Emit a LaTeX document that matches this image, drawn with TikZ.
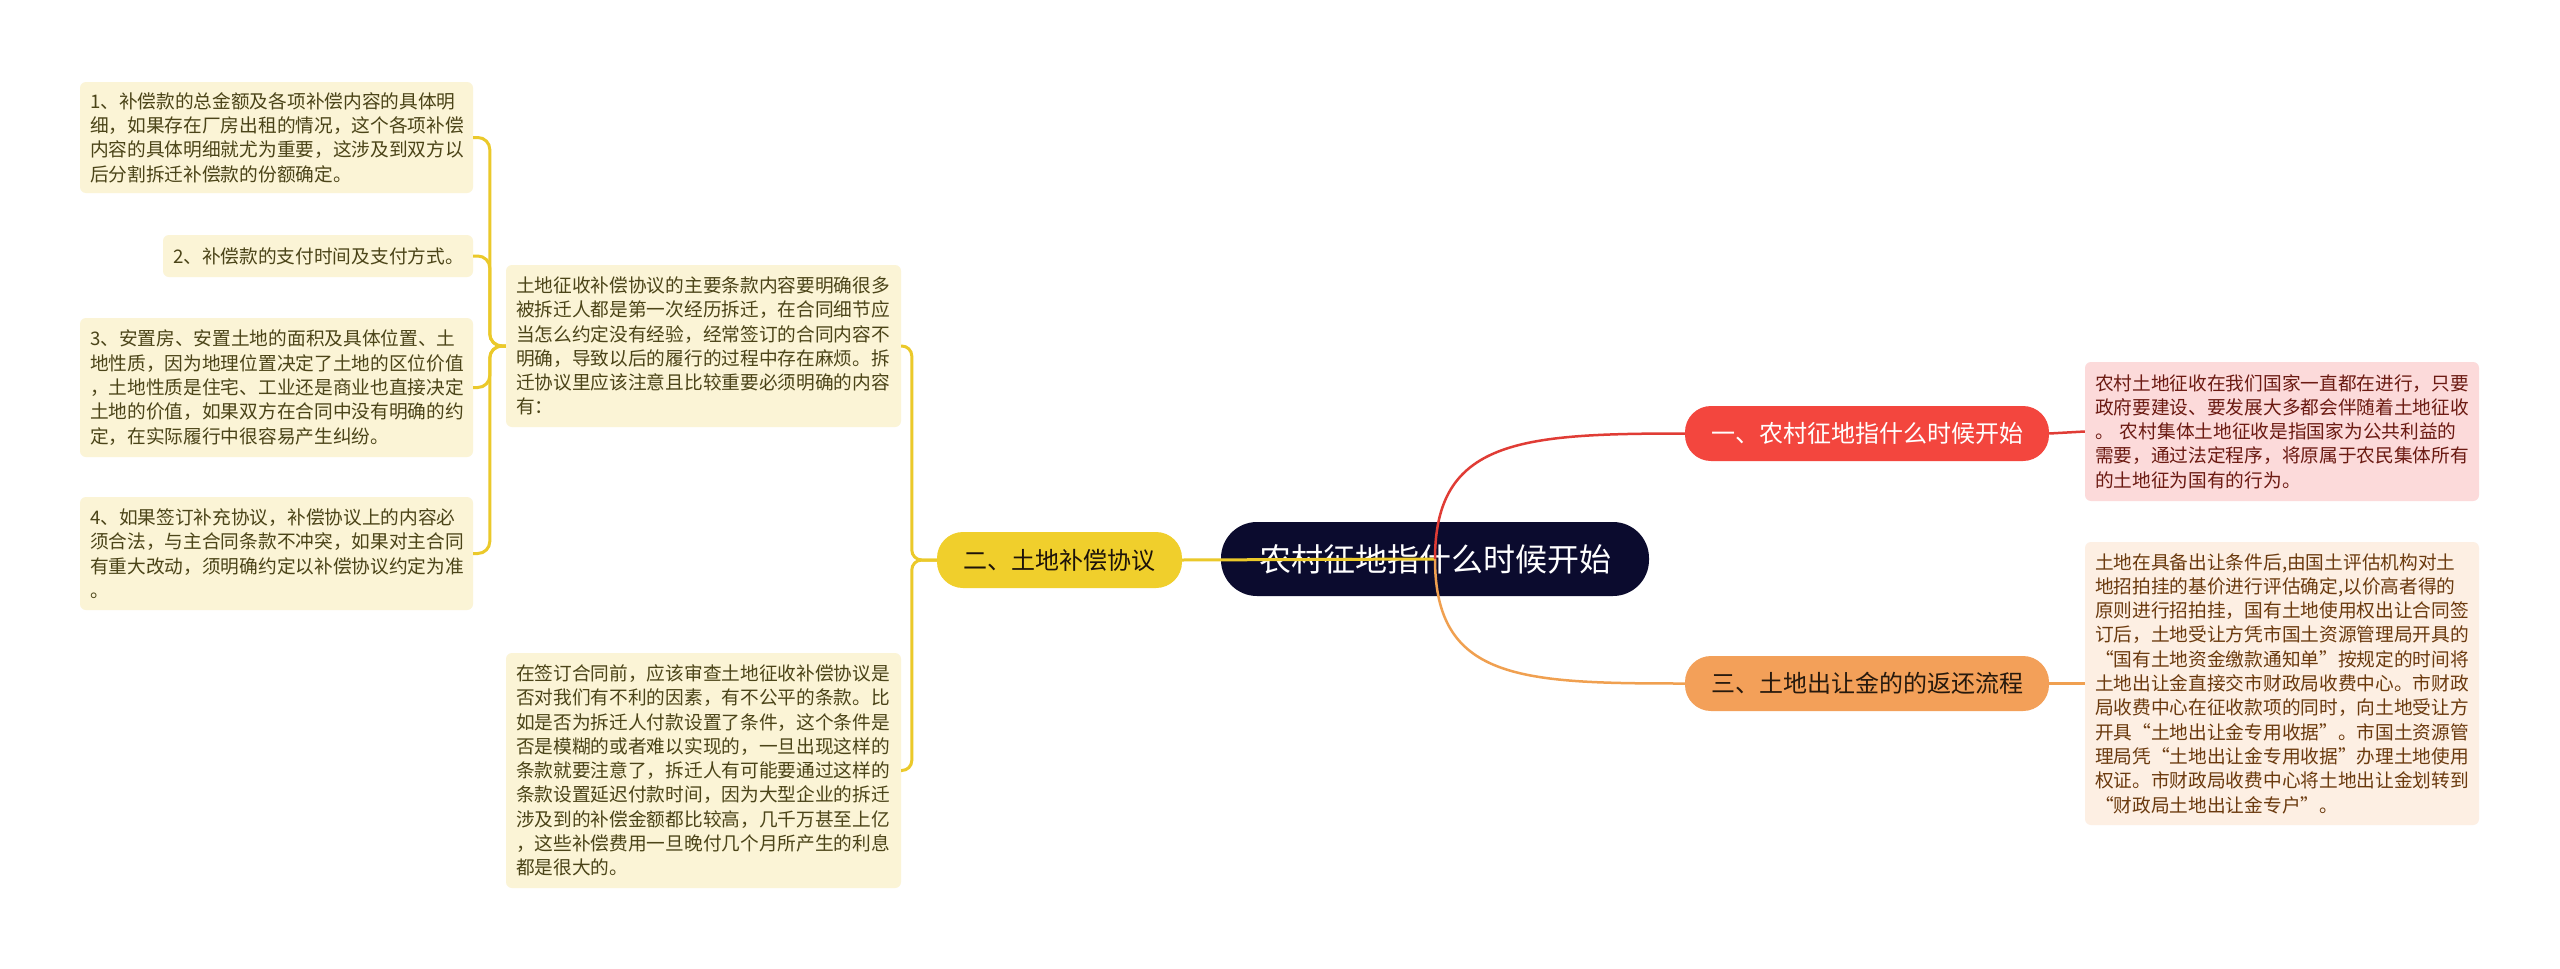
\documentclass[tikz,border=0pt]{standalone}
\usepackage{fontspec}
\setmainfont{Noto Sans CJK SC}
\definecolor{cnavy}{HTML}{0B0B2E}
\definecolor{cyel}{HTML}{F0CF2C}
\definecolor{cyelline}{HTML}{EBC92A}
\definecolor{cyelleaf}{HTML}{FBF4D6}
\definecolor{cyeltext}{HTML}{4B4418}
\definecolor{cred}{HTML}{F3463E}
\definecolor{credline}{HTML}{E03C35}
\definecolor{credleaf}{HTML}{FCDADA}
\definecolor{credtext}{HTML}{6B1A12}
\definecolor{corg}{HTML}{F3A059}
\definecolor{corgline}{HTML}{F0A050}
\definecolor{corgleaf}{HTML}{FDEFE3}
\definecolor{corgtext}{HTML}{6B3A0E}
\newcommand{\leaffont}{\fontsize{18.7}{24.3}\selectfont}
\newcommand{\mainfontsz}{\fontsize{24}{28}\selectfont}
\newcommand{\centerfontsz}{\fontsize{32}{36}\selectfont}
\begin{document}
\begin{tikzpicture}[x=1pt,y=-1pt,
  leafbase/.style={rounded corners=6pt, inner xsep=10pt, inner ysep=0pt, align=left, font=\leaffont},
  leafY/.style={leafbase, fill=cyelleaf, text=cyeltext},
  leafR/.style={leafbase, fill=credleaf, text=credtext},
  leafO/.style={leafbase, fill=corgleaf, text=corgtext},
  mainbase/.style={rounded corners=26pt, inner sep=0pt, font=\mainfontsz},
  mainY/.style={mainbase, fill=cyel, text=black!85!brown},
  mainR/.style={mainbase, fill=cred, text=white},
  mainO/.style={mainbase, fill=corg, text=black!80!brown},
  centernode/.style={rounded corners=36pt, inner sep=0pt, fill=cnavy, text=white, font=\centerfontsz},
  yline/.style={draw=cyelline, line width=3pt},
  rline/.style={draw=credline, line width=2.5pt},
  oline/.style={draw=corgline, line width=2.5pt}
]
\useasboundingbox[fill=white] (0,0) rectangle (2560,969);

% left leaves
\node[leafY, text width=373, minimum height=111] (l1) at (276.5,137.5) {1、补偿款的总金额及各项补偿内容的具体明\\细，如果存在厂房出租的情况，这个各项补偿\\内容的具体明细就尤为重要，这涉及到双方以\\后分割拆迁补偿款的份额确定。};
\node[leafY, text width=290, minimum height=42] (l2) at (318,256) {2、补偿款的支付时间及支付方式。};
\node[leafY, text width=373, minimum height=139] (l3) at (276.5,387.5) {3、安置房、安置土地的面积及具体位置、土\\地性质，因为地理位置决定了土地的区位价值\\，土地性质是住宅、工业还是商业也直接决定\\土地的价值，如果双方在合同中没有明确的约\\定，在实际履行中很容易产生纠纷。};
\node[leafY, text width=373, minimum height=113] (l4) at (276.5,553.5) {4、如果签订补充协议，补偿协议上的内容必\\须合法，与主合同条款不冲突，如果对主合同\\有重大改动，须明确约定以补偿协议约定为准\\。};

% middle-left leaves
\node[leafY, text width=375, minimum height=162] (la) at (703.5,346) {土地征收补偿协议的主要条款内容要明确很多\\被拆迁人都是第一次经历拆迁，在合同细节应\\当怎么约定没有经验，经常签订的合同内容不\\明确，导致以后的履行的过程中存在麻烦。拆\\迁协议里应该注意且比较重要必须明确的内容\\有：};
\node[leafY, text width=375, minimum height=235] (lb) at (703.5,770.5) {在签订合同前，应该审查土地征收补偿协议是\\否对我们有不利的因素，有不公平的条款。比\\如是否为拆迁人付款设置了条件，这个条件是\\否是模糊的或者难以实现的，一旦出现这样的\\条款就要注意了，拆迁人有可能要通过这样的\\条款设置延迟付款时间，因为大型企业的拆迁\\涉及到的补偿金额都比较高，几千万甚至上亿\\，这些补偿费用一旦晚付几个月所产生的利息\\都是很大的。};

% main topics
\node[mainY, minimum width=245, minimum height=56] (n2) at (1059.5,560) {二、土地补偿协议};
\node[centernode, minimum width=428, minimum height=74] (c) at (1435,559) {农村征地指什么时候开始};
\node[mainR, minimum width=364, minimum height=55] (n1) at (1867,433.5) {一、农村征地指什么时候开始};
\node[mainO, minimum width=364, minimum height=55] (n3) at (1867,683.5) {三、土地出让金的的返还流程};

% right leaves
\node[leafR, text width=374, minimum height=139] (lr) at (2282,431.5) {农村土地征收在我们国家一直都在进行，只要\\政府要建设、要发展大多都会伴随着土地征收\\。 农村集体土地征收是指国家为公共利益的\\需要，通过法定程序，将原属于农民集体所有\\的土地征为国有的行为。};
\node[leafO, text width=374, minimum height=283] (lo) at (2282,683.5) {土地在具备出让条件后,由国土评估机构对土\\地招拍挂的基价进行评估确定,以价高者得的\\原则进行招拍挂，国有土地使用权出让合同签\\订后，土地受让方凭市国土资源管理局开具的\\“国有土地资金缴款通知单”按规定的时间将\\土地出让金直接交市财政局收费中心。市财政\\局收费中心在征收款项的同时，向土地受让方\\开具“土地出让金专用收据”。市国土资源管\\理局凭“土地出让金专用收据”办理土地使用\\权证。市财政局收费中心将土地出让金划转到\\“财政局土地出让金专户”。};

% connectors
\draw[yline, rounded corners=12pt] (la.west) -- ++(-16,0) |- (l1.east);
\draw[yline, rounded corners=12pt] (la.west) -- ++(-16,0) |- (l2.east);
\draw[yline, rounded corners=12pt] (la.west) -- ++(-16,0) |- (l3.east);
\draw[yline, rounded corners=12pt] (la.west) -- ++(-16,0) |- (l4.east);
\draw[yline, rounded corners=10pt] (n2.west) -- ++(-25,0) |- (la.east);
\draw[yline, rounded corners=10pt] (n2.west) -- ++(-25,0) |- (lb.east);
\draw[yline] (n2.east) -- (c.center);
\draw[rline] (c.center) .. controls (1435,440) and (1520,433.5) .. (n1.west);
\draw[oline] (c.center) .. controls (1435,680) and (1520,683.5) .. (n3.west);
\draw[rline] (n1.east) -- (lr.west);
\draw[oline] (n3.east) -- (lo.west);
\end{tikzpicture}
\end{document}
